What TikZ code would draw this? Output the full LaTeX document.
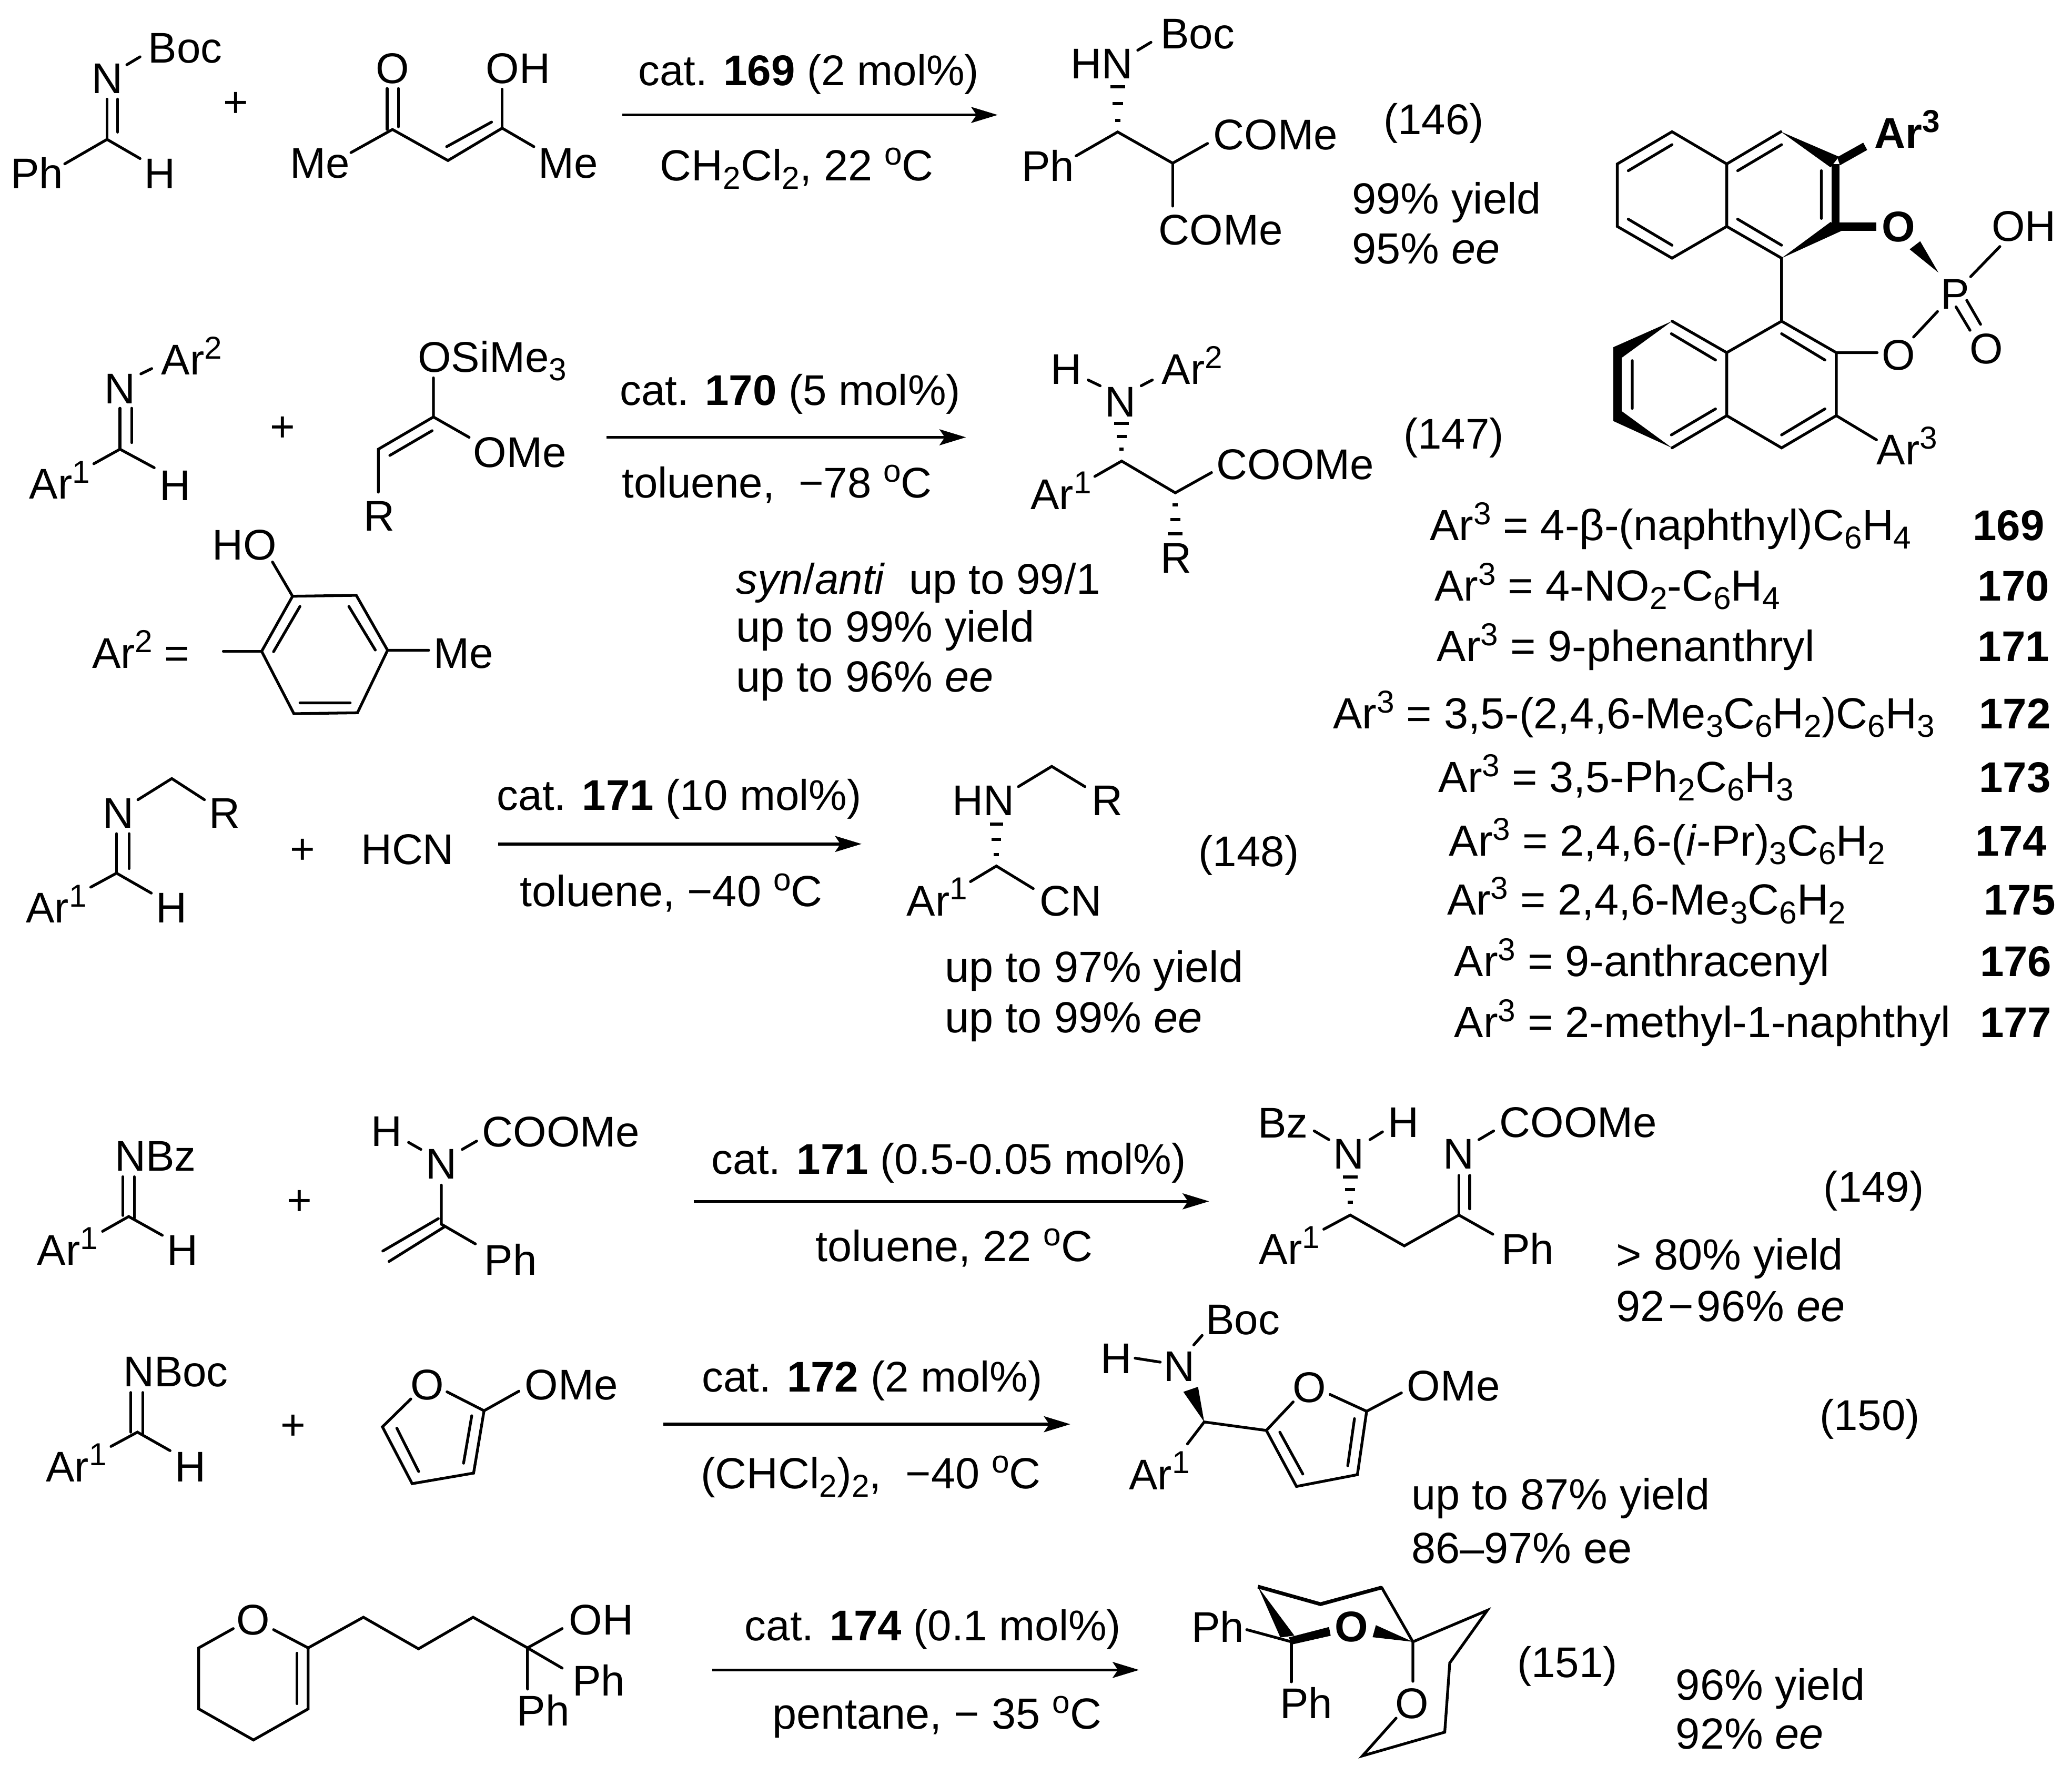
\documentclass[tikz,border=0pt]{standalone}
\usepackage{fontspec}
\setmainfont{Liberation Sans}
\usetikzlibrary{arrows.meta}
\newcommand{\lowtxt}[1]{\raisebox{-6.5pt}{\fontsize{24}{24}\selectfont #1}}
\newcommand{\hightxt}[1]{\raisebox{12pt}{\fontsize{24}{24}\selectfont #1}}
\tikzset{
  lab/.style={inner sep=0pt,text height=23.3pt,text depth=0pt,anchor=center},
  labl/.style={lab,anchor=west},
  wide/.style={font=\fontsize{33}{39}\selectfont},
  bond/.style={line width=2.1pt,line join=miter,line cap=round},
  wedge/.style={fill=black,draw=none},
  rxn/.style={line width=2.2pt,-{Stealth[length=20pt,width=12pt,inset=4pt]}},
  hash/.style={line width=2.4pt}
}
\begin{document}
\begin{tikzpicture}[x=1pt,y=-1pt,font=\fontsize{32.5}{39}\selectfont]
\useasboundingbox (0,0) rectangle (1568,1336.7);

%%% (146) reactants
\node[lab] (a1) at (81,59) {N};
\node[labl] (a2) at (112,36) {Boc};
\node[lab] (a3) at (28,131) {Ph};
\node[lab] (a4) at (121,131) {H};
\draw[bond] (96,49)--(106,43);
\draw[bond] (49,124)--(81,105.5)--(106,120);
\draw[bond] (81,75)--(81,105.5) (89,75)--(89,100);
\node[lab] (a5) at (178.5,77) {+};
\node[lab] (b1) at (297,51.5) {O};
\node[lab] (b2) at (392,51.5) {OH};
\node[lab] (b3) at (242,123) {Me};
\node[lab] (b4) at (430,123) {Me};
\draw[bond] (265.6,115.5)--(297,98)--(339,121.5)--(380,97)--(404,111);
\draw[bond] (380,97)--(380,67.5);
\draw[bond] (293,67)--(293,98) (301.5,67)--(301.5,96);
\draw[bond] (338,111)--(372,92.4);
\coordinate (r1s) at (471,87); \coordinate (r1e) at (755,87);
\draw[rxn] (r1s)--(r1e);
\node[lab] (r1t) at (612,53) {cat. \textbf{169} (2 mol\%)};
\node[lab,wide] (r1b) at (603,125) {CH\lowtxt{2}Cl\lowtxt{2}, 22 \hightxt{o}C};
%%% (146) product
\node[lab] (c1) at (833.6,48) {HN};
\node[labl] (c2) at (878,25) {Boc};
\node[lab] (c3) at (793,125.6) {Ph};
\node[labl] (c4) at (918,101.6) {COMe};
\node[labl] (c5) at (876.6,173.7) {COMe};
\draw[bond] (861,38)--(871,32);
\draw[hash] (840.2,65.7)--(851.4,65.7) (841.8,78.3)--(849.8,78.3) (843.8,91)--(847.8,91);
\draw[bond] (814.3,118)--(845.8,99.9)--(887.4,123.5)--(913.8,108.6);
\draw[bond] (887.4,123.5)--(887.4,156);
\node[lab] (c6) at (1085,90) {(146)};
\node[labl,wide] (c7) at (1023,150) {99\% yield};
\node[labl,wide] (c8) at (1023,188) {95\% \textit{ee}};

%%% (147) reactants
\node[lab] (d1) at (90.8,294) {N};
\node[labl] (d2) at (122,272) {Ar\hightxt{2}};
\node[labl] (d3) at (22,366) {Ar\hightxt{1}};
\node[lab] (d4) at (132.5,367) {H};
\draw[bond] (106.6,283)--(114.8,279);
\draw[bond] (90.8,309)--(90.8,340) (99.6,309)--(99.6,335);
\draw[bond] (71,351)--(90.8,340)--(116.7,354);
\node[lab] (d5) at (214,322.7) {+};
\node[labl] (e1) at (316,270) {OSiMe\lowtxt{3}};
\node[labl] (e2) at (358,342) {OMe};
\node[lab] (e3) at (287,390) {R};
\draw[bond] (328,286)--(328,315.6)--(355,331);
\draw[bond] (328,315.6)--(286.3,340)--(286.3,372.5);
\draw[bond] (295,344.7)--(327,326);
\coordinate (r2s) at (459,331); \coordinate (r2e) at (731,331);
\draw[rxn] (r2s)--(r2e);
\node[lab] (r2t) at (598,295) {cat. \textbf{170} (5 mol\%)};
\node[lab] (r2b) at (588,365) {toluene,~ −78 \hightxt{o}C};
%%% (147) product
\node[lab] (f1) at (807,279) {H};
\node[lab] (f2) at (848,303.7) {N};
\node[labl] (f3) at (879,279) {Ar\hightxt{2}};
\node[labl] (f4) at (779.8,374) {Ar\hightxt{1}};
\node[labl] (f5) at (920.5,351) {COOMe};
\node[lab] (f6) at (890,422) {R};
\draw[bond] (823.4,287.6)--(832.5,292) (863.6,292)--(872,287.6);
\draw[hash] (843.2,320.6)--(854.4,320.6) (845.1,330.5)--(852.5,330.5) (847.2,340)--(850.4,340);
\draw[bond] (828.5,360.6)--(848.8,349)--(889.4,373)--(916.8,357.7);
\draw[hash] (887.4,382)--(891.4,382) (885.7,393.3)--(893.1,393.3) (883.8,404)--(895,404);
\node[lab] (f7) at (1100,328) {(147)};
\node[labl] (f8) at (557,438) {\textit{syn}/\textit{anti}~ up to 99/1};
\node[labl,wide] (f9) at (557,474) {up to 99\% yield};
\node[labl,wide] (f10) at (557,512) {up to 96\% \textit{ee}};
%%% Ar2
\node[labl] (g1) at (69.5,494) {Ar\hightxt{2} =};
\node[lab] (g2) at (185,412) {HO};
\node[labl] (g3) at (328,494) {Me};
\draw[bond] (169,493)--(198,493);
\draw[bond] (198,493)--(221.4,451.3)--(269.6,450.6)--(293.3,492.2)--(270.5,539.5)--(222.4,540.2)--cycle;
\draw[bond] (221.4,451.3)--(206.2,425.4) (293.3,492.2)--(324.4,492.2);
\draw[bond] (207,493.3)--(227,459) (264,459)--(284,492) (227,532)--(265,532);

%%% (148)
\node[lab] (h1) at (89.4,615) {N};
\node[lab] (h2) at (170,615) {R};
\draw[bond] (104.4,605.3)--(130,589.3)--(154.7,605.3);
\draw[bond] (88.2,631)--(88.2,660.9) (97.7,631)--(97.7,657.4);
\draw[bond] (68.7,671.5)--(88.2,660.9)--(114.5,676);
\node[labl] (h3) at (19.5,686.8) {Ar\hightxt{1}};
\node[lab] (h4) at (129.6,686.8) {H};
\node[lab] (h5) at (229,642) {+};
\node[lab] (h6) at (308.3,642.6) {HCN};
\coordinate (r3s) at (377,638.8); \coordinate (r3e) at (652,638.8);
\draw[rxn] (r3s)--(r3e);
\node[lab] (r3t) at (514,601.5) {cat. \textbf{171} (10 mol\%)};
\node[lab,wide] (r3b) at (508,674.5) {toluene, −40 \hightxt{o}C};
\node[labl] (i1) at (720.5,605.7) {HN};
\node[lab] (i2) at (837.8,605.7) {R};
\draw[bond] (770.7,595.4)--(795.9,580.1)--(821,595.4);
\draw[hash] (749,623.6)--(759,623.6) (750.5,635.3)--(757.5,635.3) (752,646.9)--(756,646.9);
\draw[bond] (734.4,667.3)--(754,655.5)--(781.9,672.6);
\node[labl] (i3) at (686,681.4) {Ar\hightxt{1}};
\node[labl] (i4) at (786.4,681.4) {CN};
\node[lab] (i5) at (945,644) {(148)};
\node[labl,wide] (i6) at (715,731.7) {up to 97\% yield};
\node[labl,wide] (i7) at (715,769.8) {up to 99\% \textit{ee}};

%%% (149)
\node[labl] (j1) at (86.8,874.8) {NBz};
\draw[bond] (93,890.7)--(93,920) (101.6,890.7)--(101.6,922);
\draw[bond] (77.6,932)--(97.4,920.8)--(122.8,935);
\node[labl] (j2) at (28,946) {Ar\hightxt{1}};
\node[lab] (j3) at (138,946) {H};
\node[lab] (j4) at (226.7,908) {+};
\node[lab] (k1) at (292.7,855.8) {H};
\node[lab] (k2) at (334,880.5) {N};
\node[labl] (k3) at (364.7,856.4) {COOMe};
\node[labl] (k4) at (366.3,953.5) {Ph};
\draw[bond] (309.2,864.7)--(318.5,870) (349.8,870)--(360.7,863.7);
\draw[bond] (334,897)--(334,926.6)--(359.7,941.5);
\draw[bond] (331.7,922.4)--(289.7,946.9) (336,928.8)--(294.4,954.8);
\coordinate (r4s) at (525,909.3); \coordinate (r4e) at (915,909.3);
\draw[rxn] (r4s)--(r4e);
\node[lab] (r4t) at (718,877) {cat. \textbf{171} (0.5-0.05 mol\%)};
\node[lab,wide] (r4b) at (722,943) {toluene, 22 \hightxt{o}C};
\node[labl] (l1) at (951.6,849.6) {Bz};
\node[lab] (l2) at (1062,849.1) {H};
\node[lab] (l3) at (1020.8,873.2) {N};
\draw[bond] (994.5,856)--(1005.6,862.6) (1036.7,862.6)--(1046.2,856.7);
\draw[hash] (1016.1,891)--(1027.5,891) (1018,900.4)--(1025.6,900.4) (1019.9,910)--(1023.7,910);
\draw[bond] (1001.8,930.4)--(1021.8,919.7)--(1062.7,943)--(1104,919.7)--(1129.7,934.2);
\draw[bond] (1104,889.7)--(1104,919.7) (1112.2,889.7)--(1112.2,915);
\node[lab] (l4) at (1104,873.2) {N};
\draw[bond] (1119.2,862.6)--(1130.3,856);
\node[labl] (l5) at (1134.5,849) {COOMe};
\node[labl] (l6) at (952.6,945.1) {Ar\hightxt{1}};
\node[labl] (l7) at (1136,945.1) {Ph};
\node[lab] (l8) at (1418,898) {(149)};
\node[labl,wide] (l9) at (1223,949.4) {> 80\% yield};
\node[labl,wide] (l10) at (1223,988.5) {92\kern2.5pt−\kern2.5pt96\% \textit{ee}};

%%% (150)
\node[labl] (m1) at (93,1038) {NBoc};
\draw[bond] (99,1054)--(99,1084) (108,1054)--(108,1086);
\draw[bond] (84,1094.8)--(104,1084)--(128.7,1098);
\node[labl] (m2) at (34.6,1109.7) {Ar\hightxt{1}};
\node[lab] (m3) at (144.2,1109.7) {H};
\node[lab] (m4) at (221.8,1078) {+};
\node[lab] (n1) at (323.4,1047.8) {O};
\draw[bond] (338.3,1053.5)--(366.3,1067.8)--(358.4,1115)--(311.9,1123)--(289.4,1080)--(310.9,1058.9);
\draw[bond] (357,1071.6)--(350.8,1107.5) (300.3,1081)--(316.8,1113.8);
\draw[bond] (366.3,1067.8)--(392.7,1053);
\node[labl] (n2) at (397,1047.8) {OMe};
\coordinate (r5s) at (502,1078); \coordinate (r5e) at (810,1078);
\draw[rxn] (r5s)--(r5e);
\node[lab] (r5t) at (660,1042) {cat. \textbf{172} (2 mol\%)};
\node[lab,wide] (r5b) at (659,1115) {(CHCl\lowtxt{2})\lowtxt{2},~ −40 \hightxt{o}C};
\node[labl] (o1) at (912.3,998.4) {Boc};
\node[lab] (o2) at (844.7,1028) {H};
\node[lab] (o3) at (892.3,1034) {N};
\draw[bond] (859,1028)--(878,1031) (903.4,1018)--(909.7,1010.8);
\fill[wedge] (911.3,1076.3)--(895.5,1053.5)--(906.6,1049.7)--cycle;
\draw[bond] (898.6,1092.9)--(911.3,1076.3)--(958.3,1082.7);
\node[labl] (o4) at (854.2,1115.7) {Ar\hightxt{1}};
\draw[bond] (978.6,1061.1)--(958.3,1082.7)--(981.1,1125.1)--(1027.2,1116.2)--(1034.2,1068.2)--(1006.5,1055.5);
\node[lab] (o5) at (990.7,1049.7) {O};
\draw[bond] (1034.2,1068.2)--(1060.5,1054.3);
\draw[bond] (1025,1073.8)--(1019.9,1109.4) (968.5,1084)--(985.9,1115.7);
\node[labl] (o6) at (1064.6,1048.4) {OMe};
\node[labl,wide] (o7) at (1068,1131) {up to 87\% yield};
\node[labl,wide] (o8) at (1068,1171.6) {86–97\% ee};
\node[lab] (o9) at (1415,1071) {(150)};

%%% (151)
\node[lab] (p1) at (191.6,1225.8) {O};
\draw[bond] (176.5,1232.7)--(150.4,1247.3)--(150.4,1293.5)--(191.8,1317)--(233.2,1293.5)--(233.2,1247.3)--(207,1233.5);
\draw[bond] (224.8,1251.3)--(224.8,1289.5);
\draw[bond] (233.2,1247.3)--(275,1224.1)--(316.7,1248)--(358,1224.1)--(399.2,1247.3)--(425.4,1232.7);
\draw[bond] (399.2,1247.3)--(425.4,1262.6) (399.2,1247.3)--(399.2,1278.5);
\node[labl] (p2) at (430.4,1225.7) {OH};
\node[labl] (p3) at (433,1272) {Ph};
\node[labl] (p4) at (391,1294.5) {Ph};
\coordinate (r6s) at (539,1264); \coordinate (r6e) at (862,1264);
\draw[rxn] (r6s)--(r6e);
\node[lab] (r6t) at (706,1230) {cat. \textbf{174} (0.1 mol\%)};
\node[lab,wide] (r6b) at (709,1297) {pentane, − 35 \hightxt{o}C};
\node[labl] (q1) at (901.6,1231.5) {Ph};
\node[labl] (q2) at (968.4,1289.2) {Ph};
\node[lab] (q3) at (1022.7,1230.8) {\textbf{O}};
\node[lab] (q4) at (1068.7,1289.2) {O};
\draw[bond] (943.5,1233.5)--(977.3,1242.7);
\draw[bond] (977.3,1242.7)--(977.3,1273);
\fill[wedge] (951.9,1200.9)--(968.9,1239.4)--(979.5,1238)--cycle;
\fill[wedge] (975.2,1239.4)--(1005.7,1231.5)--(1007,1238.1)--(977.8,1244.7)--cycle;
\draw[line width=2.8pt,line join=miter] (951.9,1200.9)--(999.3,1214.2)--(1045.6,1201.6);
\draw[bond] (1045.6,1201.6)--(1069.2,1242.7);
\fill[wedge] (1041.2,1230.1)--(1038.7,1239.2)--(1069.2,1242.7)--cycle;
\draw[bond] (1069.2,1272.6)--(1069.2,1242.7)--(1125.5,1218.9)--(1097.1,1258.7)--(1093.3,1311.1)--(1031.1,1329)--(1056.5,1300.5);
\node[lab] (q5) at (1186,1258) {(151)};
\node[labl,wide] (q6) at (1268,1275) {96\% yield};
\node[labl,wide] (q7) at (1268,1312) {92\% \textit{ee}};

%%% catalyst
\draw[bond] (1265.3,99.7)--(1223.9,124.1)--(1223.9,171.4)--(1265.3,195.4)--(1306.7,171.4)--(1306.7,124.1)--cycle;
\draw[bond] (1306.7,124.1)--(1347.7,99.7);
\draw[bond] (1306.7,171.4)--(1348.2,195.4)--(1348.2,243.1);
\draw[bond] (1232.2,129.2)--(1265.3,109.5) (1232.2,165.9)--(1265.3,185.6) (1315,129.2)--(1348.2,109.5) (1315,165.9)--(1348.2,185.6) (1378.3,129.2)--(1378.3,165.3);
\fill[wedge] (1347.7,99.7)--(1391.6,118.6)--(1385.3,126.7)--cycle;
\fill[wedge] (1386,124)--(1392.1,124)--(1392.1,175)--(1386,175)--cycle;
\fill[wedge] (1348.2,195.4)--(1394.1,174.5)--(1385.3,168)--cycle;
\fill[wedge] (1386,168.4)--(1420,168.4)--(1420,174.9)--(1386,174.9)--cycle;
\fill[wedge] (1390.3,119)--(1410,108)--(1413,113.5)--(1392.4,125.1)--cycle;
\node[labl] (s1) at (1418.5,100.3) {\textbf{Ar\hightxt{3}}};
\node[lab] (s2) at (1436.8,171.4) {\textbf{O}};
\draw[bond] (1348.2,243.1)--(1389.6,266.9)--(1389.6,314.6)--(1348.2,339)--(1306.7,314.6)--(1306.7,266.9)--cycle;
\draw[bond] (1306.7,266.9)--(1265.3,243.1) (1306.7,314.6)--(1265.3,339);
\fill[wedge] (1265.3,243.1)--(1220.9,262.8)--(1227.1,270.9)--cycle;
\fill[wedge] (1220.9,262.8)--(1227.1,262.8)--(1227.1,318.7)--(1220.9,318.7)--cycle;
\fill[wedge] (1265.3,339)--(1220.9,318.7)--(1227.1,311.1)--cycle;
\draw[bond] (1264.8,252.6)--(1298.2,272.5) (1235.2,273)--(1235.2,309.1) (1264.8,329.2)--(1298.2,309.5) (1348.2,252.6)--(1381,272.5) (1348.2,329.2)--(1381,309.5);
\draw[bond] (1389.6,266.9)--(1420.5,266.9) (1389.6,314.6)--(1420,332.9);
\node[lab] (s3) at (1436.8,268.5) {O};
\node[labl] (s4) at (1420,340) {Ar\hightxt{3}};
\fill[wedge] (1466.9,206.3)--(1453.1,182.6)--(1445.1,188.7)--cycle;
\node[lab] (s5) at (1479.5,222.2) {P};
\node[labl] (s6) at (1507,170.8) {OH};
\node[lab] (s7) at (1503.3,263.8) {O};
\draw[bond] (1491.3,209.4)--(1513.4,186.6) (1466.2,235.8)--(1448.1,255.1);
\draw[bond] (1480.2,232.3)--(1490.8,250) (1488.3,227.3)--(1498.8,245.5);

%%% list
\node[labl,wide] (t1) at (1081.8,397.4) {Ar\hightxt{3} = 4-β-(naphthyl)C\lowtxt{6}H\lowtxt{4}};
\node[labl,wide] (t2) at (1085.4,443) {Ar\hightxt{3} = 4-NO\lowtxt{2}-C\lowtxt{6}H\lowtxt{4}};
\node[labl,wide] (t3) at (1087.3,489) {Ar\hightxt{3} = 9-phenanthryl};
\node[labl,wide] (t4) at (1008.7,539.8) {Ar\hightxt{3} = 3,5-(2,4,6-Me\lowtxt{3}C\lowtxt{6}H\lowtxt{2})C\lowtxt{6}H\lowtxt{3}};
\node[labl,wide] (t5) at (1088.4,587.9) {Ar\hightxt{3} = 3,5-Ph\lowtxt{2}C\lowtxt{6}H\lowtxt{3}};
\node[labl,wide] (t6) at (1096.4,636.2) {Ar\hightxt{3} = 2,4,6-(\textit{i}-Pr)\lowtxt{3}C\lowtxt{6}H\lowtxt{2}};
\node[labl,wide] (t7) at (1094.9,680.9) {Ar\hightxt{3} = 2,4,6-Me\lowtxt{3}C\lowtxt{6}H\lowtxt{2}};
\node[labl,wide] (t8) at (1100.4,727.5) {Ar\hightxt{3} = 9-anthracenyl};
\node[labl,wide] (t9) at (1100.4,773.6) {Ar\hightxt{3} = 2-methyl-1-naphthyl};
\node[labl] (u1) at (1492.7,397.4) {\textbf{169}};
\node[labl] (u2) at (1496.4,443) {\textbf{170}};
\node[labl] (u3) at (1496.4,489) {\textbf{171}};
\node[labl] (u4) at (1497.5,539.8) {\textbf{172}};
\node[labl] (u5) at (1497.5,587.9) {\textbf{173}};
\node[labl] (u6) at (1494.6,636.2) {\textbf{174}};
\node[labl] (u7) at (1501.1,680.9) {\textbf{175}};
\node[labl] (u8) at (1498.2,727.5) {\textbf{176}};
\node[labl] (u9) at (1498.2,773.6) {\textbf{177}};
\end{tikzpicture}
\end{document}
